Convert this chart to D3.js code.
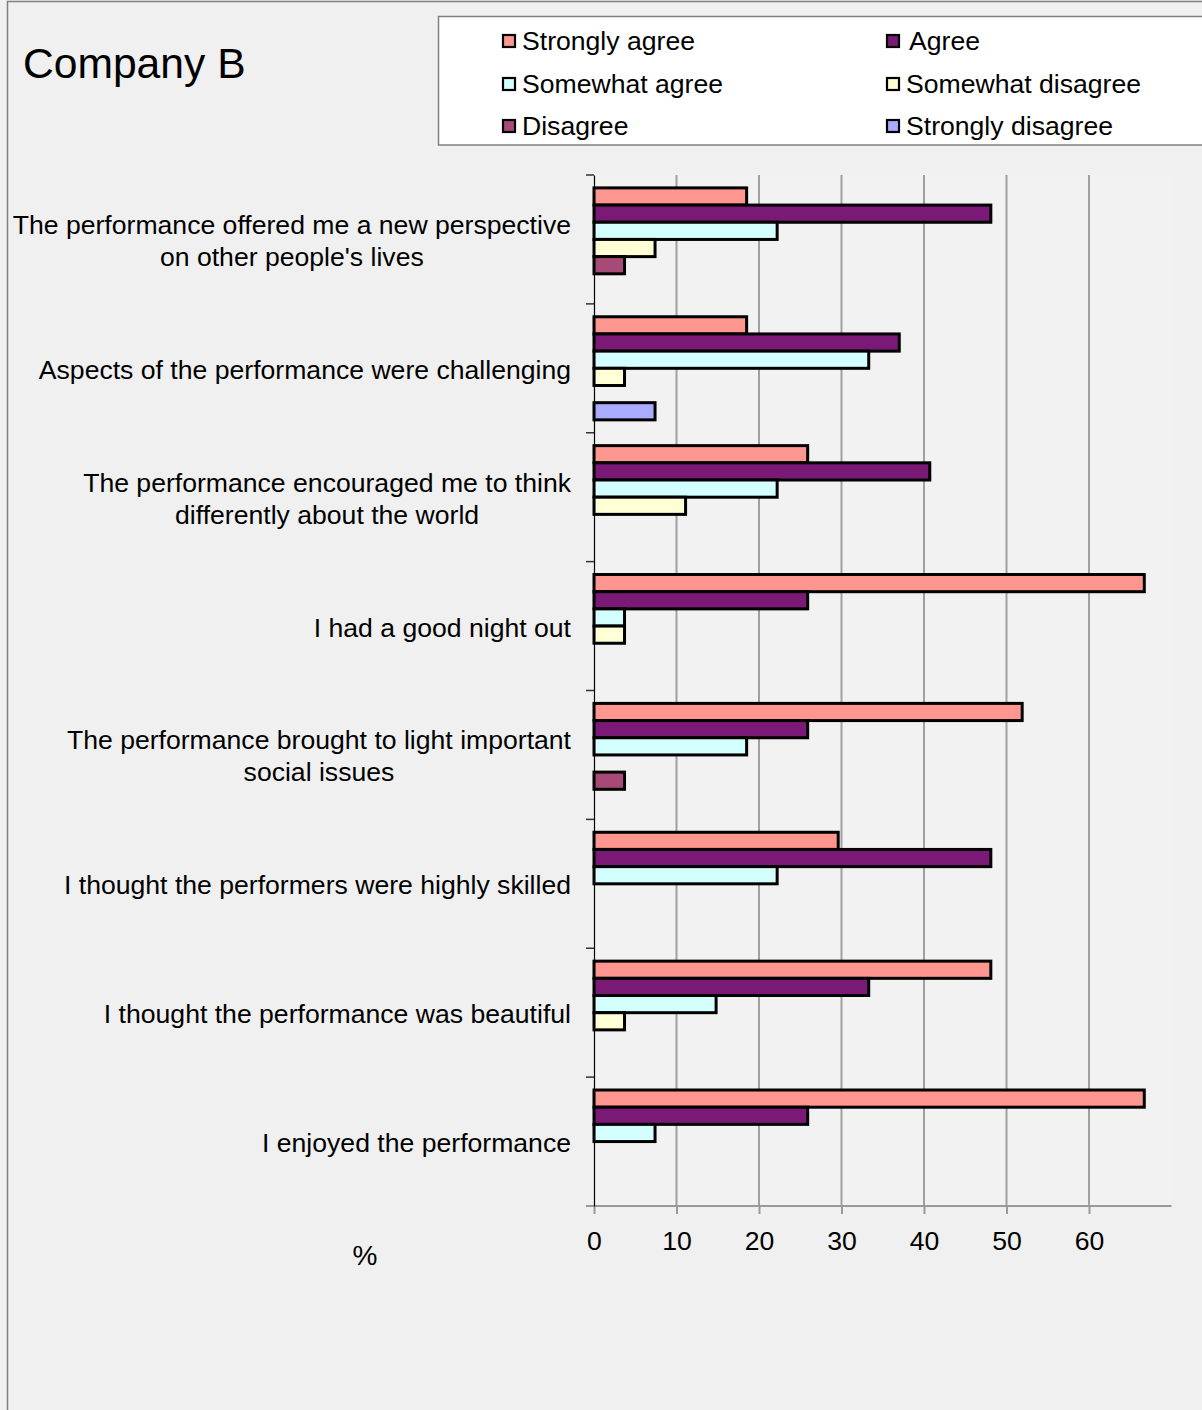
<!DOCTYPE html>
<html>
<head>
<meta charset="utf-8">
<script src="https://cdn.jsdelivr.net/npm/d3@7"></script>
<style>
  html, body { margin: 0; padding: 0; background: #F0F0F0; }
  svg { display: block; }
  text { font-family: "Liberation Sans", Arial, sans-serif; fill: #000; }
</style>
</head>
<body>
<svg id="chart" width="1202" height="1410"></svg>
<script>
// ---------- DATA ----------
const title = "Company B";
const categories = [
  ["The performance offered me a new perspective", "on other people's lives"],
  ["Aspects of the performance were challenging"],
  ["The performance encouraged me to think", "differently about the world"],
  ["I had a good night out"],
  ["The performance brought to light important", "social issues"],
  ["I thought the performers were highly skilled"],
  ["I thought the performance was beautiful"],
  ["I enjoyed the performance"]
];
const seriesNames = ["Strongly agree", "Agree", "Somewhat agree", "Somewhat disagree", "Disagree", "Strongly disagree"];
const stronglyAgree     = [18.5, 18.5, 25.9, 66.7, 51.9, 29.6, 48.1, 66.7];
const agree             = [48.1, 37.0, 40.7, 25.9, 25.9, 48.1, 33.3, 25.9];
const somewhatAgree     = [22.2, 33.3, 22.2, 3.7, 18.5, 22.2, 14.8, 7.4];
const somewhatDisagree  = [7.4, 3.7, 11.1, 3.7, 0, 0, 3.7, 0];
const disagree          = [3.7, 0, 0, 0, 3.7, 0, 0, 0];
const stronglyDisagree  = [0, 7.4, 0, 0, 0, 0, 0, 0];
const seriesValues = [stronglyAgree, agree, somewhatAgree, somewhatDisagree, disagree, stronglyDisagree];
const seriesColors = ["#FF9690", "#7A1A76", "#D4FFFF", "#FFFFD6", "#A84A78", "#AAAAFF"];
const xTicks = [0, 10, 20, 30, 40, 50, 60];
const xLabel = "%";

// ---------- LAYOUT ----------
const svg = d3.select("#chart");
const plot = { left: 594, right: 1171.5, top: 175, bottom: 1206 };
const fs = 26.6;

// background + outer border
svg.append("rect").attr("x", 0).attr("y", 0).attr("width", 1202).attr("height", 1410).attr("fill", "#F0F0F0");
svg.append("rect").attr("x", 7.5).attr("y", 1.5).attr("width", 1220).attr("height", 1430)
  .attr("fill", "#F0F0F0").attr("stroke", "#808080").attr("stroke-width", 1.5);
svg.append("rect").attr("x", plot.left).attr("y", plot.top)
  .attr("width", plot.right - plot.left).attr("height", plot.bottom - plot.top).attr("fill", "#F2F2F2");

// title
svg.append("text").attr("x", 23).attr("y", 78).attr("font-size", 42.6).text(title);

// scales
const x = d3.scaleLinear().domain([0, 70]).range([plot.left, plot.right]);
const catIdx = d3.range(categories.length);
const y0 = d3.scaleBand().domain(catIdx).range([plot.top, plot.bottom]).padding(0);
const bw = y0.bandwidth();
const y1 = d3.scaleBand().domain(d3.range(seriesNames.length)).range([bw * 0.1, bw * 0.9]).padding(0);

// gridlines
svg.append("g").selectAll("line").data(xTicks.filter(t => t > 0)).join("line")
  .attr("x1", d => x(d)).attr("x2", d => x(d))
  .attr("y1", plot.top).attr("y2", plot.bottom)
  .attr("stroke", "#A0A0A0").attr("stroke-width", 2);

// bottom axis
const xAxis = svg.append("g").attr("transform", `translate(0,${plot.bottom})`)
  .call(d3.axisBottom(x).tickValues(xTicks).tickSize(8).tickPadding(17).tickFormat(d3.format("d")));
xAxis.select(".domain").attr("d", `M${plot.left - 8},0H${plot.right}`).attr("stroke", "#999").attr("stroke-width", 2);
xAxis.selectAll(".tick line").attr("stroke", "#999").attr("stroke-width", 2);
xAxis.selectAll(".tick text").attr("font-size", fs).attr("font-family", "Liberation Sans, Arial, sans-serif").attr("fill", "#000");

// bars
const groups = svg.append("g").selectAll("g").data(catIdx).join("g")
  .attr("transform", i => `translate(0,${y0(i)})`);
groups.selectAll("rect")
  .data(i => seriesValues.map((vals, s) => ({ s, v: vals[i] })).filter(d => d.v > 0))
  .join("rect")
  .attr("x", x(0))
  .attr("y", d => y1(d.s))
  .attr("width", d => x(d.v) - x(0))
  .attr("height", y1.bandwidth())
  .attr("fill", d => seriesColors[d.s])
  .attr("stroke", "#000").attr("stroke-width", 3);

// left axis
const yAxis = svg.append("g").attr("transform", `translate(${plot.left},0)`)
  .call(d3.axisLeft(y0).tickSize(0).tickFormat(""));
yAxis.select(".domain").attr("stroke", "#000").attr("stroke-width", 1.2);
const boundaries = catIdx.map(i => y0(i));
svg.append("g").selectAll("line").data(boundaries).join("line")
  .attr("x1", plot.left - 8).attr("x2", plot.left)
  .attr("y1", d => d).attr("y2", d => d)
  .attr("stroke", "#333").attr("stroke-width", 1.5);

// category labels (block right-aligned, lines centred)
const labelRight = 571, lineH = 32;
catIdx.forEach(i => {
  const lines = categories[i];
  const cy = y0(i) + bw / 2 + 1.5;
  const t = svg.append("text").attr("font-size", fs);
  const spans = lines.map((ln, k) => t.append("tspan")
    .attr("y", cy + 9 + (k - (lines.length - 1) / 2) * lineH)
    .attr("x", 0).text(ln));
  const maxW = d3.max(spans, s => s.node().getComputedTextLength());
  spans.forEach(s => s.attr("x", labelRight - maxW / 2).attr("text-anchor", "middle"));
});

// x label
svg.append("text").attr("x", 365).attr("y", 1265).attr("font-size", 28)
  .attr("text-anchor", "middle").text(xLabel);

// legend
svg.append("rect").attr("x", 438.5).attr("y", 16.5).attr("width", 800).attr("height", 128.5)
  .attr("fill", "#FFFFFF").attr("stroke", "#808080").attr("stroke-width", 1.5);
const legX = [503, 887], legY = [41, 84, 126];
seriesNames.forEach((name, s) => {
  const col = s % 2, row = Math.floor(s / 2);
  const g = svg.append("g").attr("transform", `translate(${legX[col]},${legY[row]})`);
  g.append("rect").attr("x", 0).attr("y", -6).attr("width", 12).attr("height", 12)
    .attr("fill", seriesColors[s]).attr("stroke", "#000").attr("stroke-width", 2.2);
  g.append("text").attr("x", s === 1 ? 22 : 19).attr("y", 9).attr("font-size", fs).text(name);
});
</script>
</body>
</html>
